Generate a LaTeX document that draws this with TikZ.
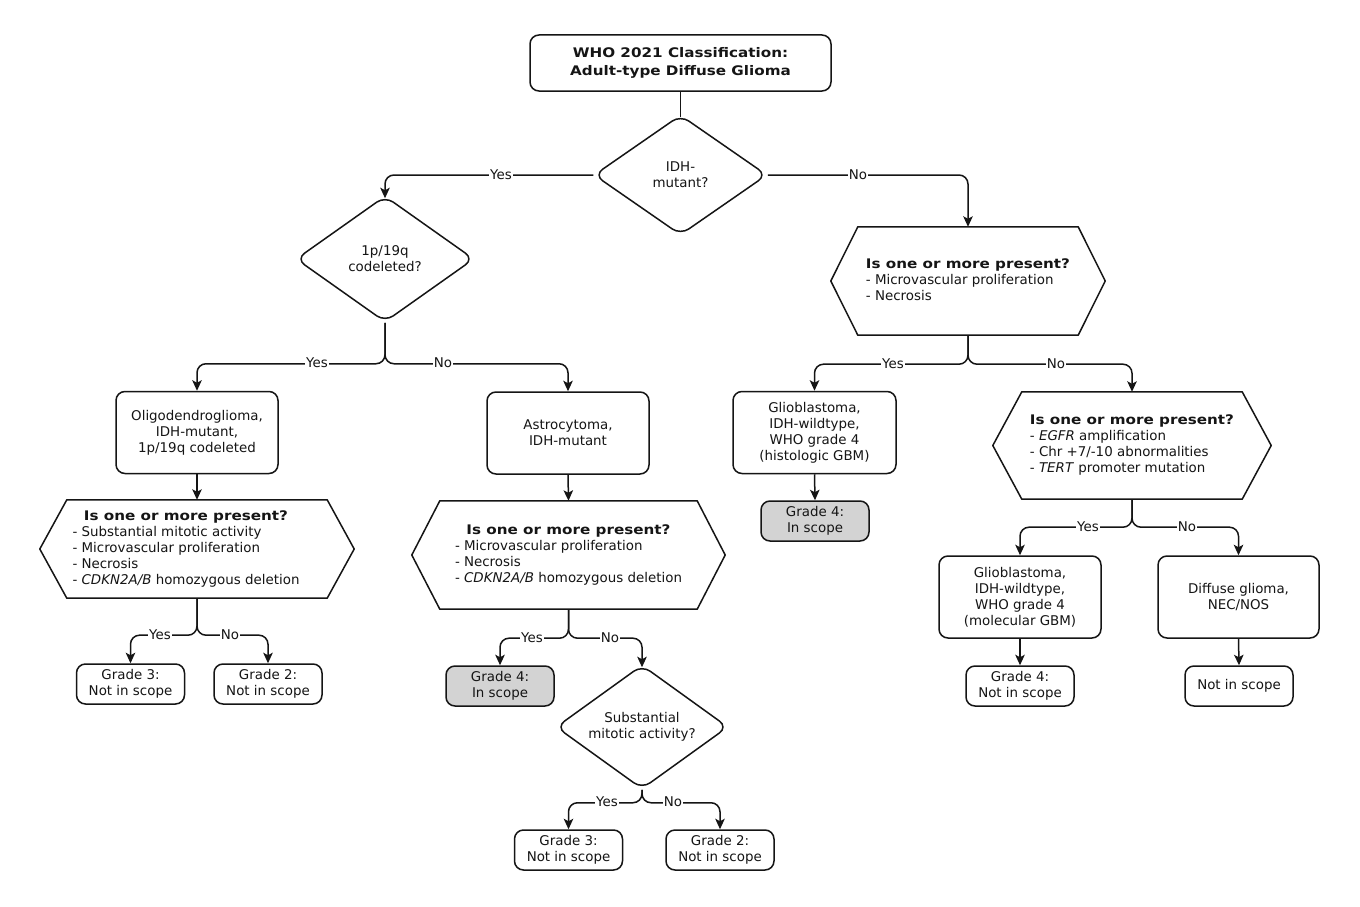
\documentclass[tikz,border=0pt]{standalone}
\usepackage{fontspec}
\setmainfont{DejaVu Sans}
\newfontfamily\wbf{DejaVu Sans}[FakeStretch=1.15]
\usetikzlibrary{shapes.geometric,arrows.meta,calc}
\makeatletter
\newcommand\fszb{\@setfontsize\fszb{13.4}{16}}
\makeatother
\newcommand\hbf{\wbf\bfseries\fontsize{13.2}{16}\selectfont}
\newcommand\ttlf{\wbf\bfseries\fontsize{13.2}{18}\selectfont}
\definecolor{ink}{HTML}{151515}
\definecolor{greyfill}{HTML}{D3D3D3}
\begin{document}
\begin{tikzpicture}[x=1pt,y=-1pt,
  every node/.style={font=\fszb, text=ink},
  rbox/.style={draw=ink, line width=1.5pt, rounded corners=9pt, align=center, inner sep=0pt, fill=white},
  big/.style={rbox, minimum width=162pt, minimum height=82pt},
  grade/.style={rbox, minimum width=108pt, minimum height=40pt},
  ggrade/.style={grade, fill=greyfill},
  dia/.style={draw=ink, line width=1.5pt, diamond, rounded corners=10pt, aspect=1.4, inner sep=0pt, align=center},
  hexb/.style={inner sep=0pt},
  hexl/.style={draw=ink, line width=1.5pt, line join=round},
  ln/.style={draw=ink, line width=1.5pt, rounded corners=9pt},
  arr/.style={ln, -{Stealth[length=10.5pt,width=9.5pt,inset=2.5pt]}},
  lbl/.style={fill=white, inner sep=1.2pt}]
\useasboundingbox[fill=white] (0,0) rectangle (1360,907);

% nodes
\node[rbox, font=\ttlf, minimum width=301pt, minimum height=56pt] (title) at (680.5,63) {WHO 2021 Classification:\\Adult-type Diffuse Glioma};
\node[dia, minimum width=173pt, minimum height=120pt] (idh) at (680.5,175) {IDH-\\mutant?};
\node[dia, minimum width=178pt, minimum height=126pt] (codel) at (385,259) {1p/19q\\codeleted?};
\node[big] (oligo) at (197,432.5) {Oligodendroglioma,\\IDH-mutant,\\1p/19q codeleted};
\node[big] (astro) at (568,433) {Astrocytoma,\\IDH-mutant};

\node[hexb, minimum width=260pt, minimum height=98pt] (ho) at (197,549) {\begin{tabular}{@{}l@{}}\multicolumn{1}{@{}c@{}}{\hbf Is one or more present?}\\- Substantial mitotic activity\\- Microvascular proliferation\\- Necrosis\\- \textit{CDKN2A/B} homozygous deletion\end{tabular}\hspace*{22pt}};
\node[hexb, minimum width=257pt, minimum height=108pt] (ha) at (568.5,555) {\begin{tabular}{@{}l@{}}\multicolumn{1}{@{}c@{}}{\hbf Is one or more present?}\\- Microvascular proliferation\\- Necrosis\\- \textit{CDKN2A/B} homozygous deletion\end{tabular}};
\node[hexb, minimum width=220pt, minimum height=108pt] (h1) at (968,281) {\begin{tabular}{@{}l@{}}\multicolumn{1}{@{}c@{}}{\hbf Is one or more present?}\\- Microvascular proliferation\\- Necrosis\end{tabular}};
\node[hexb, minimum width=220pt, minimum height=107pt] (h2) at (1132,445.5) {\begin{tabular}{@{}l@{}}\multicolumn{1}{@{}c@{}}{\hbf Is one or more present?}\\- \textit{EGFR} amplification\\- Chr +7/-10 abnormalities\\- \textit{TERT} promoter mutation\end{tabular}};
\foreach \h/\o in {ho/27,ha/28,h1/27,h2/29}
  \draw[hexl] (\h.north west) -- (\h.north east) -- ($(\h.east)+(\o,0)$) -- (\h.south east) -- (\h.south west) -- ($(\h.west)+(-\o,0)$) -- cycle;

\node[grade] (g3o) at (130.5,684) {Grade 3:\\Not in scope};
\node[grade] (g2o) at (268,684) {Grade 2:\\Not in scope};
\node[ggrade] (g4a) at (500,686) {Grade 4:\\In scope};
\node[dia, minimum width=172pt, minimum height=124pt] (subst) at (642,727) {Substantial\\mitotic activity?};
\node[grade] (g3s) at (568.5,850) {Grade 3:\\Not in scope};
\node[grade] (g2s) at (720,850) {Grade 2:\\Not in scope};

\node[big, minimum width=163pt] (gbmh) at (814.5,432.5) {Glioblastoma,\\IDH-wildtype,\\WHO grade 4\\(histologic GBM)};
\node[ggrade] (g4h) at (815,521) {Grade 4:\\In scope};
\node[big] (gbmm) at (1020,597) {Glioblastoma,\\IDH-wildtype,\\WHO grade 4\\(molecular GBM)};
\node[big, minimum width=161pt] (dg) at (1238.5,597) {Diffuse glioma,\\NEC/NOS};
\node[grade] (g4m) at (1020,686) {Grade 4:\\Not in scope};
\node[grade] (nis) at (1239,686) {Not in scope};

% connectors
\draw[ln, shorten >=-3pt] (title.south) -- (idh.north);
\draw[arr, shorten >=-3pt] (idh.west) -| (codel.north);
\draw[arr] (idh.east) -| (h1.north);
\draw[arr] (codel.south) -- ++(0,41) -| (oligo.north);
\draw[arr] (codel.south) -- ++(0,41) -| (astro.north);
\draw[arr] (oligo.south) -- (ho.north);
\draw[arr] (ho.south) -- ++(0,37) -| (g3o.north);
\draw[arr] (ho.south) -- ++(0,37) -| (g2o.north);
\draw[arr] (astro.south) -- (ha.north);
\draw[arr] (ha.south) -- ++(0,29) -| (g4a.north);
\draw[arr, shorten >=-3pt] (ha.south) -- ++(0,29) -| (subst.north);
\draw[arr] (subst.south) -- ++(0,13) -| (g3s.north);
\draw[arr] (subst.south) -- ++(0,13) -| (g2s.north);
\draw[arr] (h1.south) -- ++(0,29) -| (gbmh.north);
\draw[arr] (h1.south) -- ++(0,29) -| (h2.north);
\draw[arr] (gbmh.south) -- (g4h.north);
\draw[arr] (h2.south) -- ++(0,28) -| (gbmm.north);
\draw[arr] (h2.south) -- ++(0,28) -| (dg.north);
\draw[arr] (gbmm.south) -- (g4m.north);
\draw[arr] (dg.south) -- (nis.north);

% labels
\node[lbl] (l1) at (501,175) {Yes};
\node[lbl] (l2) at (858,175) {No};
\node[lbl] (l3) at (317,363) {Yes};
\node[lbl] (l4) at (443,363) {No};
\node[lbl] (l5) at (160,635) {Yes};
\node[lbl] (l6) at (230,635) {No};
\node[lbl] (l7) at (532,638) {Yes};
\node[lbl] (l8) at (610,638) {No};
\node[lbl] (l9) at (607,802) {Yes};
\node[lbl] (l10) at (673,802) {No};
\node[lbl] (l11) at (893,364) {Yes};
\node[lbl] (l12) at (1056,364) {No};
\node[lbl] (l13) at (1088,527) {Yes};
\node[lbl] (l14) at (1187,527) {No};
\end{tikzpicture}
\end{document}
